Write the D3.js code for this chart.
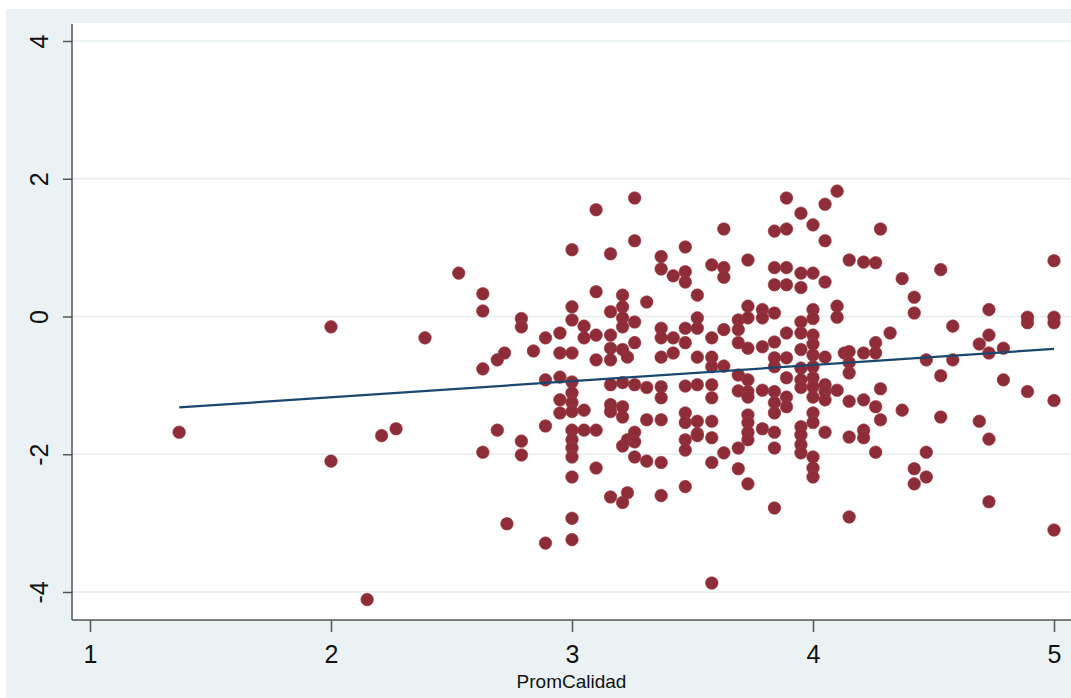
<!DOCTYPE html>
<html lang="en">
<head>
<meta charset="UTF-8">
<title>PromCalidad scatter</title>
<script src="https://d3js.org/d3.v7.min.js"></script>
<style>
  body { margin: 0; background: #ffffff; }
  svg { display: block; }
  .tick text { font-family: Arial, "Liberation Sans", sans-serif; fill: #111; }
  .axis-title { font-family: Arial, "Liberation Sans", sans-serif; fill: #111; }
</style>
</head>
<body>
<div id="chart"></div>
<script>
// x values (PromCalidad) grouped by column, with the y values found at each column
const colX = [1.37, 2.0, 2.15, 2.21, 2.27, 2.39, 2.53, 2.63, 2.69, 2.72, 2.73, 2.79, 2.84, 2.89, 2.95,
  3.0, 3.05, 3.10, 3.16, 3.21, 3.23, 3.26, 3.31, 3.37, 3.42, 3.47, 3.52, 3.58, 3.63, 3.69, 3.73,
  3.79, 3.84, 3.89, 3.95, 4.0, 4.05, 4.10, 4.13, 4.15, 4.21, 4.26, 4.28, 4.32, 4.37, 4.42, 4.47,
  4.53, 4.58, 4.69, 4.73, 4.79, 4.89, 5.0];
const colY = [
  [-1.68],
  [-0.15, -2.10],
  [-4.11],
  [-1.73],
  [-1.63],
  [-0.31],
  [0.63],
  [0.33, 0.08, -0.76, -1.97],
  [-0.63, -1.65],
  [-0.53],
  [-3.01],
  [-0.03, -0.15, -1.81, -2.01],
  [-0.50],
  [-0.31, -0.92, -1.59, -3.29],
  [-0.24, -0.53, -0.88, -1.21, -1.40],
  [0.97, 0.14, -0.05, -0.53, -0.95, -1.11, -1.25, -1.38, -1.65, -1.79, -1.91, -2.04, -2.33, -2.93, -3.24],
  [-0.14, -0.31, -1.36, -1.65],
  [1.55, 0.36, -0.27, -0.63, -1.65, -2.20],
  [0.91, 0.07, -0.27, -0.46, -0.63, -0.99, -1.28, -1.38, -2.62],
  [0.31, 0.14, -0.02, -0.15, -0.48, -0.96, -1.31, -1.46, -1.88, -2.70],
  [-0.59, -1.79, -2.56],
  [1.72, 1.10, -0.08, -0.38, -0.99, -1.68, -1.82, -2.04],
  [0.21, -1.03, -1.50, -2.10],
  [0.87, 0.69, -0.17, -0.31, -0.59, -1.02, -1.18, -1.50, -2.12, -2.60],
  [0.59, -0.31, -0.53],
  [1.01, 0.65, 0.50, -0.17, -0.38, -1.01, -1.40, -1.54, -1.79, -1.94, -2.47],
  [0.31, -0.02, -0.17, -0.59, -0.99, -1.52, -1.70, -1.73],
  [0.75, -0.31, -0.59, -0.73, -0.99, -1.18, -1.52, -1.76, -2.12, -3.87],
  [1.27, 0.71, 0.57, -0.19, -0.72, -1.98],
  [-0.05, -0.19, -0.38, -0.85, -1.08, -1.91, -2.21],
  [0.82, 0.15, -0.02, -0.46, -0.92, -1.09, -1.17, -1.43, -1.54, -1.68, -1.79, -2.43],
  [0.10, -0.02, -0.44, -1.07, -1.63],
  [1.24, 0.71, 0.46, 0.05, -0.37, -0.60, -0.73, -1.09, -1.25, -1.40, -1.68, -1.91, -2.78],
  [1.72, 1.27, 0.71, 0.46, -0.24, -0.60, -0.89, -1.17, -1.31],
  [1.50, 0.63, 0.42, -0.08, -0.24, -0.48, -0.75, -0.92, -1.03, -1.60, -1.72, -1.86, -1.98],
  [1.33, 0.63, 0.10, -0.03, -0.27, -0.40, -0.56, -0.73, -0.89, -1.02, -1.17, -1.40, -1.54, -2.04, -2.20, -2.33],
  [1.63, 1.10, 0.50, -0.59, -0.99, -1.09, -1.21, -1.68],
  [1.82, 0.15, -0.01, -1.07],
  [-0.53],
  [0.82, -0.51, -0.67, -0.82, -1.23, -1.75, -2.91],
  [0.79, -0.53, -1.21, -1.65, -1.76],
  [0.78, -0.38, -0.53, -1.31, -1.97],
  [1.27, -1.05, -1.50],
  [-0.24],
  [0.55, -1.36],
  [0.28, 0.05, -2.21, -2.43],
  [-0.63, -1.97, -2.33],
  [0.68, -0.86, -1.46],
  [-0.14, -0.63],
  [-0.40, -1.52],
  [0.10, -0.27, -0.53, -1.78, -2.69],
  [-0.46, -0.92],
  [-0.01, -0.09, -1.09],
  [0.81, -0.01, -0.09, -1.22, -3.10]
];

// fitted line end points
const fitX = [1.37, 5.0];
const fitY = [-1.32, -0.47];

const xTicks = [1, 2, 3, 4, 5];
const yTicks = [-4, -2, 0, 2, 4];

const W = 1071, H = 698;
const plotLeft = 72, plotTop = 23, plotBottom = 620;

const svg = d3.select("#chart").append("svg")
  .attr("width", W).attr("height", H);

// outer graph region
svg.append("rect")
  .attr("x", 6).attr("y", 9)
  .attr("width", W - 6).attr("height", H - 9)
  .attr("fill", "#eaf2f3");

// plot region
svg.append("rect")
  .attr("x", plotLeft).attr("y", plotTop)
  .attr("width", W - plotLeft).attr("height", plotBottom - plotTop)
  .attr("fill", "#ffffff");

const x = d3.scaleLinear().domain([1, 5]).range([90, 1054]);
const y = d3.scaleLinear().domain([-4, 4]).range([592, 41]);

// grid lines
svg.append("g").selectAll("line")
  .data(yTicks)
  .enter().append("line")
  .attr("x1", plotLeft).attr("x2", W)
  .attr("y1", d => y(d)).attr("y2", d => y(d))
  .attr("stroke", "#e7eeee")
  .attr("stroke-width", 1.5);

// points
const points = [];
colX.forEach((cx, i) => colY[i].forEach(v => points.push({ x: cx, y: v })));

svg.append("g").selectAll("circle")
  .data(points)
  .enter().append("circle")
  .attr("cx", d => x(d.x))
  .attr("cy", d => y(d.y))
  .attr("r", 6.3)
  .attr("fill", "#8e2c37")
  .attr("stroke", "#9a3a44")
  .attr("stroke-width", 0.6);

// fitted values
const fit = fitX.map((v, i) => [v, fitY[i]]);
svg.append("path")
  .datum(fit)
  .attr("d", d3.line().x(d => x(d[0])).y(d => y(d[1])))
  .attr("fill", "none")
  .attr("stroke", "#1a476f")
  .attr("stroke-width", 2.2);

const plain = d => String(d);

// y axis
const yAxis = svg.append("g")
  .attr("transform", `translate(${plotLeft},0)`)
  .call(d3.axisLeft(y).tickValues(yTicks).tickFormat(plain).tickSize(9).tickSizeOuter(0));
yAxis.select(".domain").remove();
yAxis.selectAll(".tick line").attr("stroke", "#555").attr("stroke-width", 1.5);
yAxis.selectAll(".tick text")
  .attr("x", 0).attr("dy", 0)
  .attr("transform", "translate(-24,0) rotate(-90)")
  .attr("text-anchor", "middle")
  .style("font-size", "25px");

// x axis
const xAxis = svg.append("g")
  .attr("transform", `translate(0,${plotBottom})`)
  .call(d3.axisBottom(x).tickValues(xTicks).tickFormat(plain).tickSize(12).tickSizeOuter(0));
xAxis.select(".domain").remove();
xAxis.selectAll(".tick line").attr("stroke", "#555").attr("stroke-width", 1.5);
xAxis.selectAll(".tick text")
  .attr("y", 43).attr("dy", 0)
  .style("font-size", "25px");

// axis lines
svg.append("line")
  .attr("x1", plotLeft).attr("x2", plotLeft)
  .attr("y1", plotTop + 1).attr("y2", plotBottom)
  .attr("stroke", "#555").attr("stroke-width", 1.5);
svg.append("line")
  .attr("x1", plotLeft).attr("x2", W)
  .attr("y1", plotBottom).attr("y2", plotBottom)
  .attr("stroke", "#555").attr("stroke-width", 1.5);

svg.append("text")
  .attr("class", "axis-title")
  .attr("x", (plotLeft + W) / 2)
  .attr("y", 688)
  .attr("text-anchor", "middle")
  .style("font-size", "19px")
  .text("PromCalidad");
</script>
</body>
</html>
